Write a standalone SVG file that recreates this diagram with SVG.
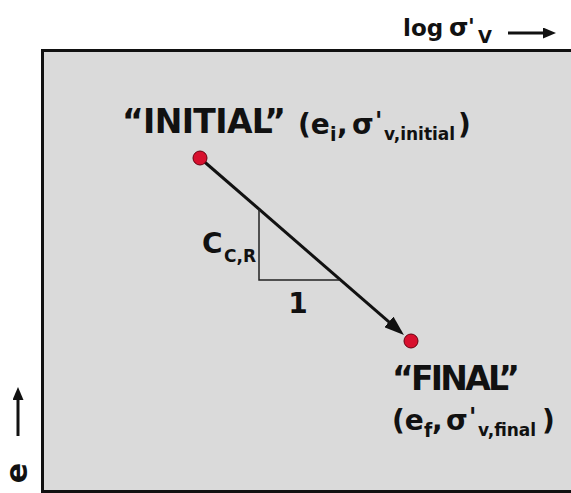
<svg xmlns="http://www.w3.org/2000/svg" width="571" height="493" viewBox="0 0 571 493">
<style>
.t{font-family:"DejaVu Sans","Liberation Sans",sans-serif;font-weight:bold;fill:#111}
.dot{fill:#d8102e;stroke:#6a0010;stroke-width:1}
.ax{stroke:#111;stroke-width:3;fill:none}
</style>
<defs>
<marker id="ah" viewBox="0 0 20 14" refX="10" refY="7" markerWidth="20" markerHeight="14" markerUnits="userSpaceOnUse" orient="auto">
<path d="M0,0 L20,7 L0,14 z" fill="#111"/>
</marker>
<marker id="ah2" viewBox="0 0 13 11" refX="4" refY="5.5" markerWidth="13" markerHeight="11" markerUnits="userSpaceOnUse" orient="auto">
<path d="M0,0 L13,5.5 L0,11 z" fill="#111"/>
</marker>
</defs>
<rect width="571" height="493" fill="#fff"/>
<g id="plot">
<rect x="42.5" y="50.5" width="540" height="441" fill="#dadada" stroke="#111" stroke-width="3"/>
</g>
<g id="axis-x">
<text class="t" x="403" y="36" font-size="23">log</text>
<text class="t" x="449" y="36" font-size="25">σ</text>
<text class="t" x="468" y="34" font-size="22">'</text>
<text class="t" x="478" y="43" font-size="18">V</text>
</g>
<g id="axis-y">
<text class="t" font-size="30" text-anchor="middle" transform="translate(27,473) rotate(-90)">e</text>
</g>
<g id="connectors">
<line class="ax" x1="508" y1="33" x2="547" y2="33" marker-end="url(#ah2)"/>
<line class="ax" stroke-width="3.5" x1="18" y1="436" x2="18" y2="396" marker-end="url(#ah2)"/>
<line class="ax" x1="200" y1="158" x2="396.4" y2="328.4" marker-end="url(#ah)"/>
<polyline points="259,209 259,280 340,280" fill="none" stroke="#222" stroke-width="1.5"/>
</g>
<g id="initial">
<circle class="dot" cx="200" cy="158" r="7"/>
<text class="t" x="122" y="133" font-size="33" textLength="164">“INITIAL”</text>
<text class="t" x="298" y="134" font-size="28">(e</text>
<text class="t" x="330" y="141" font-size="19">i</text>
<text class="t" x="337" y="134" font-size="28">,</text>
<text class="t" x="352" y="134" font-size="28">σ</text>
<text class="t" x="375" y="129" font-size="24">'</text>
<text class="t" x="384" y="140" font-size="17">v,initial</text>
<text class="t" x="458" y="134" font-size="28">)</text>
</g>
<g id="slope">
<text class="t" x="202" y="253" font-size="28">C</text>
<text class="t" x="224" y="262" font-size="17">C,R</text>
<text class="t" x="298" y="313" font-size="28" text-anchor="middle">1</text>
</g>
<g id="final">
<circle class="dot" cx="411" cy="341" r="7"/>
<text class="t" x="392" y="390" font-size="33" textLength="128">“FINAL”</text>
<text class="t" x="392" y="430" font-size="28">(e</text>
<text class="t" x="424" y="437" font-size="19">f</text>
<text class="t" x="432" y="430" font-size="28">,</text>
<text class="t" x="446" y="430" font-size="28">σ</text>
<text class="t" x="469" y="425" font-size="24">'</text>
<text class="t" x="478" y="436" font-size="17">v,final</text>
<text class="t" x="542" y="430" font-size="28">)</text>
</g>
</svg>
